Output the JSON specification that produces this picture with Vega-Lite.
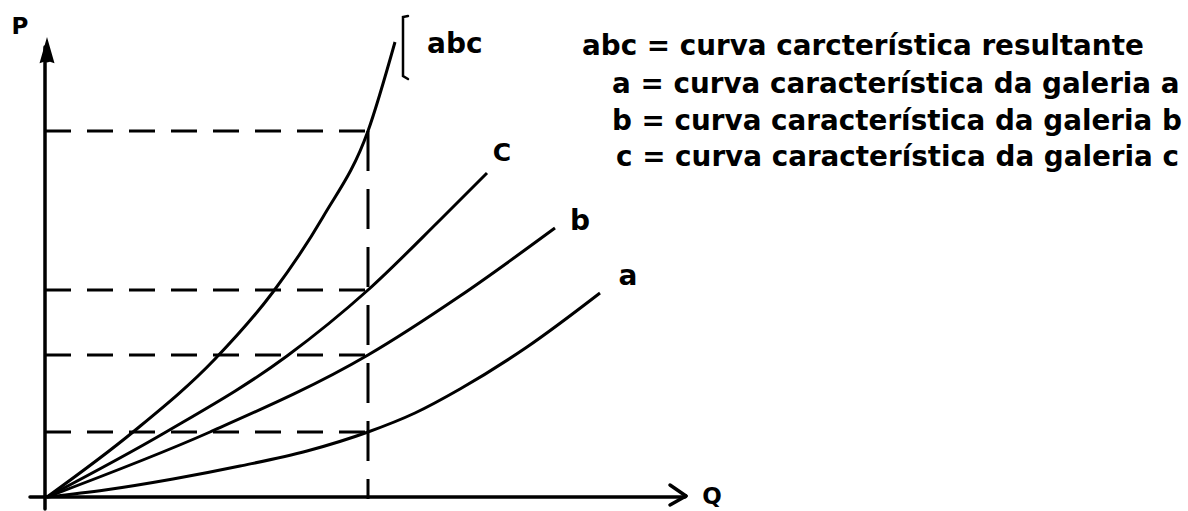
{
  "$schema": "https://vega.github.io/schema/vega-lite/v6.json",
  "width": 1188,
  "height": 511,
  "autosize": {"type": "none"},
  "padding": 0,
  "background": "white",
  "config": {"view": {"stroke": null}},
  "datasets": {
    "axes": [
      {"q": 0, "p": -12, "q2": 0, "p2": 450},
      {"q": -15, "p": 0, "q2": 640, "p2": 0},
      {"q": 641, "p": 1, "q2": 625, "p2": 12},
      {"q": 641, "p": 1, "q2": 625, "p2": -8}
    ],
    "arrowtip": [
      {"q": 2, "p": 445}
    ],
    "hdash": [
      {"q": 0, "p": 366, "q2": 323, "p2": 366},
      {"q": 0, "p": 207, "q2": 323, "p2": 207},
      {"q": 0, "p": 142, "q2": 323, "p2": 142},
      {"q": 0, "p": 65, "q2": 323, "p2": 65}
    ],
    "vdash": [
      {"q": 323, "p": 366, "q2": 323, "p2": -2}
    ],
    "bracket": [
      {"q": 363, "p": 481, "o": 1},
      {"q": 358, "p": 480, "o": 2},
      {"q": 358, "p": 421, "o": 3},
      {"q": 363, "p": 418, "o": 4}
    ],
    "curves": [
      {"s": "abc", "q": 2, "p": 0},
      {"s": "abc", "q": 88, "p": 65},
      {"s": "abc", "q": 170, "p": 138},
      {"s": "abc", "q": 228, "p": 205},
      {"s": "abc", "q": 278, "p": 280},
      {"s": "abc", "q": 323, "p": 366},
      {"s": "abc", "q": 350, "p": 455},
      {"s": "c", "q": 2, "p": 0},
      {"s": "c", "q": 121, "p": 65},
      {"s": "c", "q": 242, "p": 141},
      {"s": "c", "q": 323, "p": 207},
      {"s": "c", "q": 395, "p": 277},
      {"s": "c", "q": 442, "p": 324},
      {"s": "b", "q": 2, "p": 0},
      {"s": "b", "q": 165, "p": 65},
      {"s": "b", "q": 323, "p": 142},
      {"s": "b", "q": 415, "p": 201},
      {"s": "b", "q": 510, "p": 269},
      {"s": "a", "q": 2, "p": 0},
      {"s": "a", "q": 60, "p": 7},
      {"s": "a", "q": 128, "p": 18},
      {"s": "a", "q": 195, "p": 31},
      {"s": "a", "q": 262, "p": 46},
      {"s": "a", "q": 323, "p": 65},
      {"s": "a", "q": 370, "p": 84},
      {"s": "a", "q": 415, "p": 108},
      {"s": "a", "q": 482, "p": 150},
      {"s": "a", "q": 555, "p": 204}
    ],
    "axislabels": [
      {"q": -25, "p": 470, "t": "P"},
      {"q": 667, "p": 0, "t": "Q"}
    ],
    "abclabel": [
      {"q": 382, "p": 452, "t": "abc"}
    ],
    "curvelabels": [
      {"q": 535, "p": 275, "t": "b"},
      {"q": 583, "p": 220, "t": "a"}
    ],
    "clabel": [
      {"q": 457, "p": 344, "t": "C"}
    ],
    "legend": [
      {"q": 537, "p": 450, "t": "abc = curva carcterística resultante"},
      {"q": 567, "p": 412, "t": "a = curva característica da galeria a"},
      {"q": 567, "p": 375, "t": "b = curva característica da galeria b"},
      {"q": 571, "p": 339, "t": "c = curva característica da galeria c"}
    ]
  },
  "encoding": {
    "x": {"field": "q", "type": "quantitative", "scale": {"domain": [-45, 1143], "nice": false, "zero": false}, "axis": null},
    "y": {"field": "p", "type": "quantitative", "scale": {"domain": [-14, 497], "nice": false, "zero": false}, "axis": null}
  },
  "layer": [
    {
      "data": {"name": "hdash"},
      "mark": {"type": "rule", "color": "black", "strokeWidth": 3, "strokeDash": [26, 16]},
      "encoding": {"x2": {"field": "q2"}, "y2": {"field": "p2"}}
    },
    {
      "data": {"name": "vdash"},
      "mark": {"type": "rule", "color": "black", "strokeWidth": 3, "strokeDash": [40, 18]},
      "encoding": {"x2": {"field": "q2"}, "y2": {"field": "p2"}}
    },
    {
      "data": {"name": "axes"},
      "mark": {"type": "rule", "color": "black", "strokeWidth": 3.5, "strokeCap": "round"},
      "encoding": {"x2": {"field": "q2"}, "y2": {"field": "p2"}}
    },
    {
      "data": {"name": "arrowtip"},
      "mark": {"type": "point", "filled": true, "color": "black", "opacity": 1, "size": 900, "shape": "M0,-1L0.5,0.75L0.2,0.65L0,0.7L-0.2,0.65L-0.5,0.75Z"},
      "encoding": {}
    },
    {
      "data": {"name": "curves"},
      "mark": {"type": "line", "color": "black", "strokeWidth": 3, "interpolate": "monotone"},
      "encoding": {"detail": {"field": "s"}}
    },
    {
      "data": {"name": "bracket"},
      "mark": {"type": "line", "color": "black", "strokeWidth": 2.5, "strokeCap": "round"},
      "encoding": {"order": {"field": "o"}}
    },
    {
      "data": {"name": "axislabels"},
      "mark": {"type": "text", "font": "DejaVu Sans", "fontWeight": "bold", "fontSize": 23, "align": "center", "baseline": "middle", "color": "black"},
      "encoding": {"text": {"field": "t"}}
    },
    {
      "data": {"name": "abclabel"},
      "mark": {"type": "text", "font": "DejaVu Sans", "fontWeight": "bold", "fontSize": 28, "align": "left", "baseline": "middle", "color": "black"},
      "encoding": {"text": {"field": "t"}}
    },
    {
      "data": {"name": "curvelabels"},
      "mark": {"type": "text", "font": "DejaVu Sans", "fontWeight": "bold", "fontSize": 28, "align": "center", "baseline": "middle", "color": "black"},
      "encoding": {"text": {"field": "t"}}
    },
    {
      "data": {"name": "clabel"},
      "mark": {"type": "text", "font": "DejaVu Sans", "fontWeight": "bold", "fontSize": 25, "align": "center", "baseline": "middle", "color": "black"},
      "encoding": {"text": {"field": "t"}}
    },
    {
      "data": {"name": "legend"},
      "mark": {"type": "text", "font": "DejaVu Sans", "fontWeight": "bold", "fontSize": 27.8, "align": "left", "baseline": "middle", "color": "black"},
      "encoding": {"text": {"field": "t"}}
    }
  ]
}
